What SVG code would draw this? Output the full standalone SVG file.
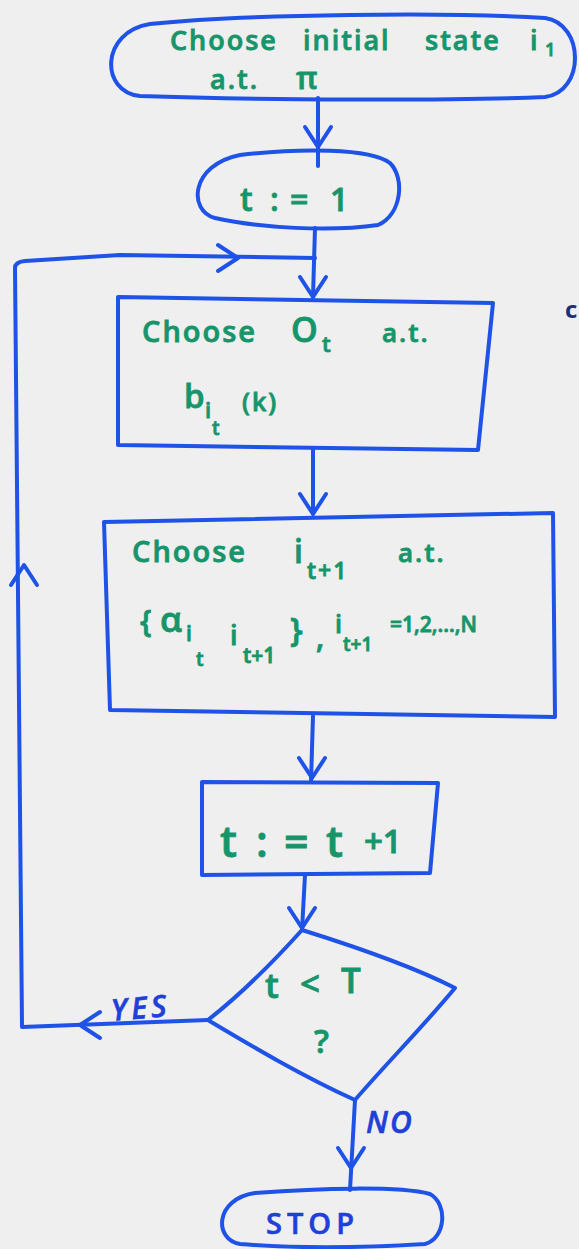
<svg xmlns="http://www.w3.org/2000/svg" xmlns:xlink="http://www.w3.org/1999/xlink" width="579" height="1249" viewBox="0 0 579 1249">
<style>
.shape{fill:none;stroke:#1f52e6;stroke-width:4;stroke-linejoin:round;stroke-linecap:round}
.conn{fill:none;stroke:#1f52e6;stroke-width:4;stroke-linejoin:round;stroke-linecap:round}
.t{font-family:"Open Sans","DejaVu Sans",sans-serif;fill:#16956a;font-weight:600;stroke:#16956a;stroke-width:0.8}
.lbl{font-family:"Open Sans","DejaVu Sans",sans-serif;fill:#1f40d8;font-weight:600;stroke:#1f40d8;stroke-width:0.6}
.it{font-style:italic}
</style>
<defs>
<path id="chev" d="M-13,-20 L0,0 L13,-20" fill="none" stroke="#1f52e6" stroke-width="4" stroke-linecap="round" stroke-linejoin="round"/>
</defs>
<rect width="579" height="1249" fill="#efefef"/>

<g id="connectors">
<path class="conn" d="M318,98 L318,166"/>
<use xlink:href="#chev" transform="translate(318,147)"/>
<path class="conn" d="M315,228 L313,297"/>
<use xlink:href="#chev" transform="translate(313,297)"/>
<path class="conn" d="M208,1020 L22,1027 L15,268 Q15,262 25,261 L120,255 L315,258"/>
<use xlink:href="#chev" transform="translate(80,1025) rotate(90)"/>
<use xlink:href="#chev" transform="translate(24,565) rotate(180)"/>
<use xlink:href="#chev" transform="translate(238,258) rotate(-90)"/>
<path class="conn" d="M313,449 L313,514"/>
<use xlink:href="#chev" transform="translate(313,514)"/>
<path class="conn" d="M313,716 L311,782"/>
<use xlink:href="#chev" transform="translate(312,778)"/>
<path class="conn" d="M305,875 L302,930"/>
<use xlink:href="#chev" transform="translate(302,928)"/>
<path class="conn" d="M355,1100 L350,1190"/>
<use xlink:href="#chev" transform="translate(351,1168)"/>
<text class="lbl it" font-size="30" letter-spacing="4" transform="translate(112,1021) rotate(-5)">YES</text>
<text class="lbl it" font-size="30" letter-spacing="2" x="366" y="1133">NO</text>
</g>

<g id="start">
<path class="shape" d="M150,24 C250,14 450,12 545,18 C585,24 585,92 545,97 C450,101 250,100 140,96 C100,92 100,32 150,24 Z"/>
<text class="t" font-size="27" letter-spacing="2"><tspan x="170" y="50">Choose</tspan><tspan x="303" y="50">initial</tspan><tspan x="425" y="50">state</tspan><tspan x="530" y="50">i</tspan><tspan x="545" y="56" font-size="18">1</tspan></text>
<text class="t" font-size="27" letter-spacing="2"><tspan x="210" y="89">a.t.</tspan><tspan x="296" y="89" font-size="31">π</tspan></text>
</g>

<g id="init">
<path class="shape" d="M240,155 C300,148 370,148 390,163 C405,178 402,214 378,225 C330,232 260,228 215,218 C188,211 190,165 240,155 Z"/>
<text class="t" font-size="32" font-weight="700"><tspan x="240" y="211">t</tspan><tspan x="270" y="211">:</tspan><tspan x="290" y="211">=</tspan><tspan x="330" y="211">1</tspan></text>
</g>

<g id="obs">
<path class="shape" d="M118,297 L493,303 L478,450 L118,445 Z"/>
<text class="t" font-size="29" letter-spacing="2"><tspan x="142" y="342">Choose</tspan><tspan x="291" y="342" font-size="34">O</tspan><tspan x="322" y="352" font-size="22">t</tspan><tspan x="382" y="342" font-size="26">a.t.</tspan></text>
<text class="t" font-size="33"><tspan x="184" y="408">b</tspan><tspan x="205" y="418" font-size="22">i</tspan><tspan x="212" y="435" font-size="19">t</tspan><tspan x="242" y="411" font-size="25" letter-spacing="2">(k)</tspan></text>
</g>

<g id="trans">
<path class="shape" d="M104,522 L553,513 L555,717 L110,710 Z"/>
<text class="t" font-size="29" letter-spacing="2"><tspan x="132" y="562">Choose</tspan><tspan x="294" y="563" font-size="32">i</tspan><tspan x="307" y="579" font-size="23">t+1</tspan><tspan x="398" y="562" font-size="26">a.t.</tspan></text>
<text class="t" font-size="30"><tspan x="140" y="632">{</tspan><tspan x="160" y="632" font-size="35">α</tspan><tspan x="186" y="641" font-size="21">i</tspan><tspan x="196" y="666" font-size="19">t</tspan><tspan x="230" y="645" font-size="27">i</tspan><tspan x="243" y="663" font-size="21">t+1</tspan><tspan x="290" y="641" font-size="33">}</tspan><tspan x="316" y="648">,</tspan><tspan x="335" y="633" font-size="25">i</tspan><tspan x="343" y="651" font-size="19">t+1</tspan><tspan x="390" y="632" font-size="21">=1,2,...,N</tspan></text>
</g>

<g id="incr">
<path class="shape" d="M202,782 L438,783 L430,873 L202,875 Z"/>
<text class="t" font-size="43"><tspan x="220" y="857">t</tspan><tspan x="256" y="857">:</tspan><tspan x="284" y="857">=</tspan><tspan x="326" y="857">t</tspan><tspan x="364" y="853" font-size="33">+1</tspan></text>
</g>

<g id="decision">
<path class="shape" d="M302,930 C350,945 410,965 455,988 C420,1030 385,1065 355,1100 C300,1075 250,1045 208,1020 C240,995 275,960 302,930 Z"/>
<text class="t" font-size="35"><tspan x="265" y="998">t</tspan><tspan x="300" y="996">&lt;</tspan><tspan x="341" y="993">T</tspan></text>
<text class="t" font-size="33" x="314" y="1053">?</text>
</g>

<g id="stop">
<path class="shape" d="M255,1193 C320,1188 400,1186 430,1194 C448,1204 446,1238 425,1244 C360,1248 290,1248 240,1244 C214,1240 214,1199 255,1193 Z"/>
<text class="lbl" font-size="29" letter-spacing="5" x="266" y="1234">STOP</text>
</g>

<text x="565" y="318" font-family="Open Sans, sans-serif" font-size="24" font-weight="700" fill="#1c2f78">c</text>
</svg>
